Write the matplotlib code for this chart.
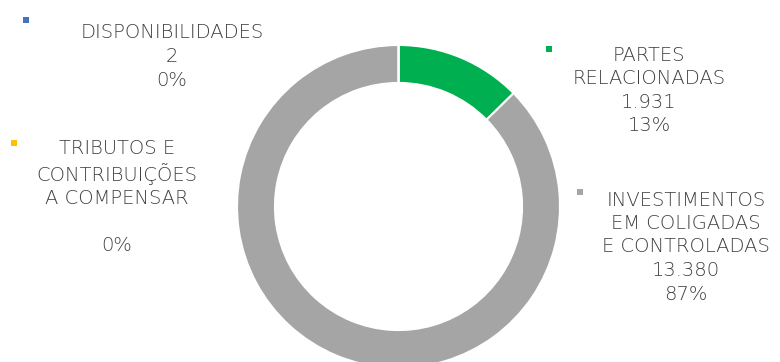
import matplotlib
matplotlib.use("Agg")
import matplotlib.pyplot as plt

# Composição do ativo (valores em milhares)
categories = ["DISPONIBILIDADES", "PARTES\nRELACIONADAS",
              "INVESTIMENTOS\nEM COLIGADAS\nE CONTROLADAS",
              "TRIBUTOS E\nCONTRIBUIÇÕES\nA COMPENSAR"]
values = [2, 1931, 13380, 0]
value_labels = ["2", "1.931", "13.380", ""]
colors = ["#4472C4", "#00B050", "#A5A5A5", "#FFC000"]

W, H = 780, 362
fig = plt.figure(figsize=(W / 100, H / 100), dpi=100)
fig.patch.set_facecolor("white")

# donut
cx, cy, r = 398.5, 206.5, 161.5
pie_ax = fig.add_axes([(cx - r) / W, (H - cy - r) / H, 2 * r / W, 2 * r / H])
pie_ax.pie(values, colors=colors, startangle=90, counterclock=False,
           radius=1.0, wedgeprops=dict(width=0.235, edgecolor="white", linewidth=1.5))
pie_ax.set_xlim(-1, 1)
pie_ax.set_ylim(-1, 1)
pie_ax.axis("off")

# overlay for labels, in pixel coordinates
ov = fig.add_axes([0, 0, 1, 1])
ov.set_xlim(0, W)
ov.set_ylim(H, 0)
ov.axis("off")
ov.patch.set_alpha(0)

total = sum(values)
# label block centers and legend-key positions
label_pos = [(172, 56.5), (649, 90.5), (686, 247), (117, 197)]
key_pos = [(26, 20), (549, 49), (580, 192), (14, 143)]

for cat, v, vl, col, (tx, ty), (kx, ky) in zip(categories, values, value_labels,
                                                colors, label_pos, key_pos):
    pct = f"{round(100 * v / total):.0f}%"
    text = f"{cat}\n{vl}\n{pct}"
    ov.text(tx, ty, text, ha="center", va="center", fontsize=14,
            color="#404040", linespacing=1.3, family="DejaVu Sans",
            fontweight="light")
    ov.scatter([kx], [ky], marker="s", s=24, color=col, linewidths=0)

fig.savefig("out.png", dpi=100, facecolor="white")
